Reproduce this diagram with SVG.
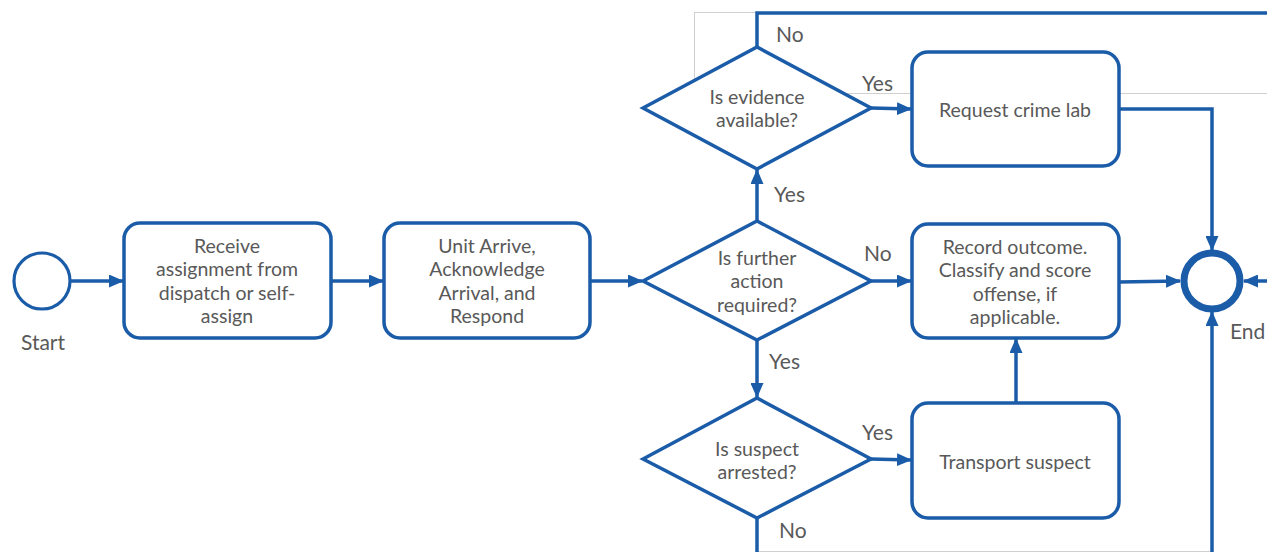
<svg xmlns="http://www.w3.org/2000/svg" width="1267" height="552" viewBox="0 0 1267 552">
<style>
.node{fill:#fff;stroke:#1b5ca8;stroke-width:3.5}
.t{font-family:Lato,"Open Sans",sans-serif;font-size:19.5px;fill:#595959;text-anchor:middle;dominant-baseline:central}
.lbl{font-family:Lato,"Open Sans",sans-serif;font-size:21px;fill:#595959;dominant-baseline:central}
.c{fill:none;stroke:#1b5ca8;stroke-width:3.5}
.g{fill:none;stroke:#d0d0d0;stroke-width:1}
</style>
<defs>
<marker id="ah" markerUnits="userSpaceOnUse" markerWidth="15" markerHeight="13" viewBox="0 0 15 13" refX="14" refY="6.5" orient="auto">
<path d="M0,0 L15,6.5 L0,13 Z" fill="#1b5ca8"/>
</marker>
</defs>
<rect width="1267" height="552" fill="#fff"/>
<g id="frame">
<rect class="g" x="694.5" y="12.5" width="600" height="81"/>
<line class="g" x1="757" y1="551.5" x2="1213" y2="551.5"/>
</g>
<g id="connectors">
<line class="c" x1="71" y1="281" x2="123" y2="281" marker-end="url(#ah)"/>
<line class="c" x1="331" y1="281" x2="383" y2="281" marker-end="url(#ah)"/>
<line class="c" x1="590" y1="281" x2="642" y2="281" marker-end="url(#ah)"/>
<line class="c" x1="757" y1="221" x2="757" y2="170" marker-end="url(#ah)"/>
<line class="c" x1="871" y1="281" x2="911" y2="281" marker-end="url(#ah)"/>
<line class="c" x1="757" y1="340" x2="757" y2="397" marker-end="url(#ah)"/>
<line class="c" x1="871" y1="108" x2="911" y2="109" marker-end="url(#ah)"/>
<polyline class="c" points="757,47 757,13 1270,13"/>
<line class="c" x1="871" y1="459" x2="911" y2="460" marker-end="url(#ah)"/>
<line class="c" x1="757" y1="518" x2="757" y2="555"/>
<line class="c" x1="1016" y1="403" x2="1016" y2="339" marker-end="url(#ah)"/>
<polyline class="c" points="1119,109 1212,109 1212,250" marker-end="url(#ah)"/>
<line class="c" x1="1119" y1="282" x2="1180" y2="281" marker-end="url(#ah)"/>
<line class="c" x1="1270" y1="281" x2="1244" y2="281" marker-end="url(#ah)"/>
<line class="c" x1="1212" y1="555" x2="1212" y2="312" marker-end="url(#ah)"/>
<text class="lbl" x="776" y="33">No</text>
<text class="lbl" x="862" y="82">Yes</text>
<text class="lbl" x="774" y="193">Yes</text>
<text class="lbl" x="864" y="252">No</text>
<text class="lbl" x="769" y="360">Yes</text>
<text class="lbl" x="862" y="431">Yes</text>
<text class="lbl" x="779" y="529">No</text>
</g>
<g id="start">
<circle class="node" cx="42" cy="281" r="28" style="stroke-width:3.2"/>
<text class="lbl" x="43" y="341" text-anchor="middle">Start</text>
</g>
<g id="receive">
<rect class="node" x="124" y="223" width="207" height="115" rx="16"/>
<text class="t" x="227" y="245">Receive</text>
<text class="t" x="227" y="268.5">assignment from</text>
<text class="t" x="227" y="292">dispatch or self-</text>
<text class="t" x="227" y="315.5">assign</text>
</g>
<g id="arrive">
<rect class="node" x="384" y="223" width="206" height="115" rx="16"/>
<text class="t" x="487" y="245">Unit Arrive,</text>
<text class="t" x="487" y="268.5">Acknowledge</text>
<text class="t" x="487" y="292">Arrival, and</text>
<text class="t" x="487" y="315.5">Respond</text>
</g>
<g id="further">
<polygon class="node" points="643,281 757,221 871,281 757,340"/>
<text class="t" x="757" y="257">Is further</text>
<text class="t" x="757" y="280.5">action</text>
<text class="t" x="757" y="304">required?</text>
</g>
<g id="evidence">
<polygon class="node" points="643,108 757,47 871,108 757,169"/>
<text class="t" x="757" y="96">Is evidence</text>
<text class="t" x="757" y="119.5">available?</text>
</g>
<g id="suspect">
<polygon class="node" points="643,459 757,398 871,459 757,518"/>
<text class="t" x="757" y="448">Is suspect</text>
<text class="t" x="757" y="471.5">arrested?</text>
</g>
<g id="crimelab">
<rect class="node" x="912" y="52" width="207" height="114" rx="16"/>
<text class="t" x="1015" y="109">Request crime lab</text>
</g>
<g id="record">
<rect class="node" x="912" y="224" width="207" height="114" rx="16"/>
<text class="t" x="1015" y="246">Record outcome.</text>
<text class="t" x="1015" y="269.5">Classify and score</text>
<text class="t" x="1015" y="293">offense, if</text>
<text class="t" x="1015" y="316.5">applicable.</text>
</g>
<g id="transport">
<rect class="node" x="912" y="403" width="207" height="115" rx="16"/>
<text class="t" x="1015" y="461">Transport suspect</text>
</g>
<g id="end">
<circle class="node" cx="1212" cy="281" r="28" style="stroke-width:7"/>
<text class="lbl" x="1230" y="330">End</text>
</g>
</svg>
